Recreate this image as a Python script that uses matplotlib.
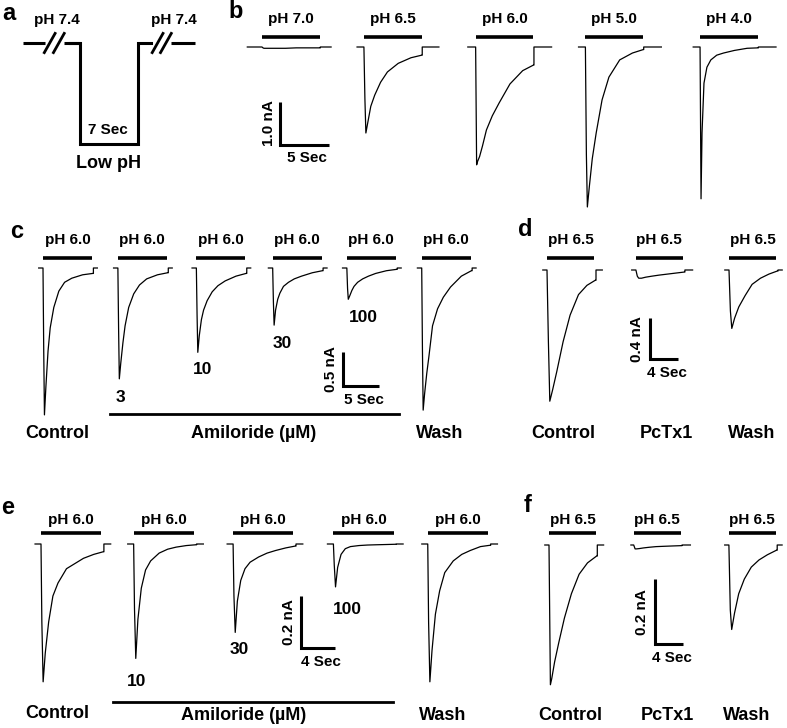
import numpy as np
import matplotlib
matplotlib.use("Agg")
import matplotlib.pyplot as plt

plt.rcParams['font.family'] = ['Liberation Sans', 'DejaVu Sans']

W, H = 787, 728

# ---- data (currents in nA, time in s after the pH drop) ----
# panel b: pH series
tb = [0, 0.1, 0.2, 0.4, 0.7, 1.1, 1.7, 2.4, 3.5, 4.8, 5.9]
b_labels = ['pH 7.0', 'pH 6.5', 'pH 6.0', 'pH 5.0', 'pH 4.0']
b_ph70 = [0, -0.02, -0.03, -0.03, -0.03, -0.03, -0.03, -0.03, -0.02, -0.02, -0.02]
b_ph65 = [0, -1.2, -2.0, -1.75, -1.38, -1.12, -0.82, -0.58, -0.38, -0.25, -0.19]
b_ph60 = [0, -2.74, -2.66, -2.55, -2.3, -1.93, -1.6, -1.30, -0.86, -0.55, -0.42]
b_ph50 = [0, -2.5, -3.72, -3.25, -2.6, -2.0, -1.23, -0.70, -0.30, -0.14, -0.06]
b_ph40 = [0, -3.53, -2.0, -0.84, -0.47, -0.30, -0.19, -0.14, -0.08, -0.03, -0.02]

# panel c: amiloride, pH 6.0
tc = [0, 0.1, 0.2, 0.4, 0.7, 1.0, 1.5, 2.2, 3.0, 4.0, 5.5, 6.9]
c_control = [0, -1.2, -2.16, -1.75, -1.22, -0.88, -0.58, -0.34, -0.21, -0.15, -0.10, -0.08]
c_am3 = [0, -0.9, -1.63, -1.4, -1.1, -0.85, -0.58, -0.38, -0.25, -0.16, -0.10, -0.07]
c_am10 = [0, -0.7, -1.24, -1.0, -0.76, -0.62, -0.48, -0.35, -0.26, -0.19, -0.12, -0.08]
c_am30 = [0, -0.5, -0.84, -0.62, -0.46, -0.37, -0.27, -0.21, -0.16, -0.12, -0.07, -0.04]
c_am100 = [0, -0.3, -0.46, -0.41, -0.33, -0.27, -0.21, -0.16, -0.12, -0.08, -0.04, -0.02]
c_wash = [0, -1.2, -2.09, -1.85, -1.55, -1.3, -0.85, -0.6, -0.43, -0.28, -0.12, -0.04]
c_conc = ['', '3', '10', '30', '100', '']

# panel d: PcTx1, pH 6.5
td = [0, 0.2, 0.4, 0.8, 1.4, 2.3, 3.3, 4.5, 5.7, 6.9]
d_control = [0, -0.7, -1.28, -1.17, -0.99, -0.70, -0.44, -0.24, -0.15, -0.10]
d_pctx1 = [0, -0.06, -0.08, -0.08, -0.07, -0.06, -0.05, -0.04, -0.03, -0.02]
d_wash = [0, -0.4, -0.57, -0.47, -0.36, -0.25, -0.14, -0.08, -0.04, -0.01]

# panel e: amiloride, pH 6.0
te = [0, 0.1, 0.25, 0.5, 0.9, 1.4, 2.0, 3.0, 4.0, 5.0, 6.2, 7.3]
e_control = [0, -0.3, -0.53, -0.42, -0.30, -0.20, -0.15, -0.095, -0.075, -0.055, -0.04, -0.03]
e_am10 = [0, -0.25, -0.44, -0.29, -0.17, -0.10, -0.065, -0.035, -0.02, -0.012, -0.006, -0.003]
e_am30 = [0, -0.2, -0.34, -0.22, -0.14, -0.095, -0.07, -0.05, -0.035, -0.025, -0.015, -0.008]
e_am100 = [0, -0.08, -0.165, -0.09, -0.04, -0.018, -0.01, -0.006, -0.004, -0.003, -0.002, -0.001]
e_wash = [0, -0.3, -0.53, -0.41, -0.27, -0.18, -0.11, -0.065, -0.04, -0.025, -0.01, -0.005]
e_conc = ['', '10', '30', '100', '']

# panel f: PcTx1, pH 6.5
tf = [0, 0.2, 0.4, 0.8, 1.4, 2.2, 3.2, 4.3, 5.5, 6.8]
f_control = [0, -0.43, -0.41, -0.36, -0.30, -0.225, -0.15, -0.09, -0.055, -0.034]
f_pctx1 = [0, -0.012, -0.012, -0.011, -0.009, -0.007, -0.005, -0.004, -0.003, -0.002]
f_wash = [0, -0.2, -0.26, -0.21, -0.15, -0.105, -0.068, -0.046, -0.03, -0.016]

fig = plt.figure(figsize=(W / 100, H / 100), dpi=100)


def panel_axes(name, ox, oy, sx, sy):
    # full-figure axes; data (0, 0) sits at pixel (ox, oy), sx px/s, sy px/nA
    ax = fig.add_axes([0, 0, 1, 1], label=name)
    ax.set_xlim(-ox / sx, (W - ox) / sx)
    ax.set_ylim(-(H - oy) / sy, oy / sy)
    ax.set_axis_off()
    return ax


def text(x, y, s, size=13, **kw):
    fig.text(x / W, 1 - y / H, s, ha='center', va='center',
             fontsize=size, fontweight='bold', **kw)


def trace(ax, t0, t, i, pulse, pre, post):
    ts = np.concatenate([[t0 - pre], t0 + np.asarray(t), [t0 + pulse] * 2, [t0 + pulse + post]])
    vs = np.concatenate([[0], i, [i[-1], 0, 0]])
    ax.plot(ts, vs, color='k', lw=0.9, solid_joinstyle='round')


def pulse_bar(ax, t0, length, level, label, dy):
    ax.plot([t0, t0 + length], [level, level], color='k', lw=2.6, solid_capstyle='butt')
    ax.annotate(label, (t0 + length / 2, level), xytext=(0, dy), textcoords='offset points',
                ha='center', va='center', fontsize=11, fontweight='bold')


def scale_bar(ax, t, i, dt, di, tlab, ilab, ilab_dx=-9, tlab_dy=-10):
    ax.plot([t, t, t + dt], [i + di, i, i], color='k', lw=2.2,
            solid_capstyle='butt', solid_joinstyle='miter')
    ax.annotate(ilab, (t, i + di / 2), xytext=(ilab_dx, 0), textcoords='offset points',
                ha='center', va='center', rotation=90, fontsize=11, fontweight='bold')
    ax.annotate(tlab, (t + dt / 2, i), xytext=(2, tlab_dy), textcoords='offset points',
                ha='center', va='center', fontsize=11, fontweight='bold')


# ---- panel a: protocol sketch ----
axa = panel_axes('a', 80, 144, 8.3, 101)
axa.plot([-1.2, 0, 0, 7, 7, 8.5], [1, 1, 0, 0, 1, 1], color='k', lw=2.2, solid_joinstyle='miter')
axa.plot([-6.9, -4.2], [1, 1], color='k', lw=2.2, solid_capstyle='butt')
axa.plot([-1.9, 0], [1, 1], color='k', lw=2.2, solid_capstyle='butt')
axa.plot([11.0, 13.8], [1, 1], color='k', lw=2.2, solid_capstyle='butt')
for c in (-3.65, -2.55, 9.35, 10.35):
    axa.plot([c - 0.65, c + 0.65], [1 - 0.095, 1 + 0.095], color='k', lw=2.0)
text(57, 20, 'pH 7.4', 11)
text(174, 20, 'pH 7.4', 11)
text(108, 130, '7 Sec', 11)
text(108, 163, 'Low pH', 13)

# ---- panel b ----
axb = panel_axes('b', 262, 47, 9.8, 43)
b_traces = [b_ph70, b_ph65, b_ph60, b_ph50, b_ph40]
b_on = [0, 10.4, 21.8, 33.0, 44.7]
b_pre = [1.5, 0.7, 0.8, 0.7, 0.7]
b_post = [1.1, 1.7, 1.8, 1.8, 1.8]
for k, tr in enumerate(b_traces):
    trace(axb, b_on[k], tb, tr, 5.95, b_pre[k], b_post[k])
    pulse_bar(axb, b_on[k], 5.9, 0.23, b_labels[k], 13)
scale_bar(axb, 1.84, -2.28, 5, 1.0, '5 Sec', '1.0 nA', -8, -9)

# ---- panel c ----
axc = panel_axes('c', 43, 268, 7.2, 68)
c_traces = [c_control, c_am3, c_am10, c_am30, c_am100, c_wash]
c_on = [0, 10.4, 21.3, 31.9, 42.2, 52.6]
for k, tr in enumerate(c_traces):
    trace(axc, c_on[k], tc, tr, 7.0, 0.6, 0.55)
    pulse_bar(axc, c_on[k], 6.8, 0.15, 'pH 6.0', 13)
scale_bar(axc, 41.7, -1.74, 5, 0.5, '5 Sec', '0.5 nA', -9, -10)
text(120, 398, '3', 12.5)
text(203, 369, '10', 12.5)
text(282, 343, '30', 12.5)
text(363, 318, '100', 12.5)
fig.add_artist(plt.Line2D([110 / W, 399 / W], [1 - 414 / H] * 2, color='k', lw=2.0))
text(57, 433, 'Control')
text(254, 433, 'Amiloride (µM)')
text(440, 433, 'Wash')

# ---- panel d ----
axd = panel_axes('d', 547, 270, 7.0, 102.5)
d_traces = [d_control, d_pctx1, d_wash]
d_on = [0, 12.7, 26.0]
d_post = [0.9, 1.1, 0.6]
for k, tr in enumerate(d_traces):
    trace(axd, d_on[k], td, tr, 7.0, 0.6, d_post[k])
    pulse_bar(axd, d_on[k], 6.7, 0.117, 'pH 6.5', 13)
scale_bar(axd, 14.7, -0.87, 4, 0.4, '4 Sec', '0.4 nA', -9, -10)
text(563, 433, 'Control')
text(666, 433, 'PcTx1')
text(752, 433, 'Wash')

# ---- panel e ----
axe = panel_axes('e', 41, 544, 8.5, 260)
e_traces = [e_control, e_am10, e_am30, e_am100, e_wash]
e_on = [0, 10.9, 22.6, 34.4, 45.5]
for k, tr in enumerate(e_traces):
    trace(axe, e_on[k], te, tr, 7.4, 0.7, 0.8)
    pulse_bar(axe, e_on[k], 7.1, 0.042, 'pH 6.0', 9.5)
scale_bar(axe, 30.6, -0.40, 4, 0.2, '4 Sec', '0.2 nA', -9, -10)
text(137, 681, '10', 12.5)
text(239, 649, '30', 12.5)
text(347, 609, '100', 12.5)
fig.add_artist(plt.Line2D([113 / W, 393 / W], [1 - 702 / H] * 2, color='k', lw=2.0))
text(57, 714, 'Control')
text(244, 716, 'Amiloride (µM)')
text(443, 716, 'Wash')

# ---- panel f ----
axf = panel_axes('f', 549, 545, 7.0, 325)
f_traces = [f_control, f_pctx1, f_wash]
f_on = [0, 12.1, 25.7]
f_pre = [0.6, 0.4, 0.6]
f_post = [0.9, 1.2, 0.7]
for k, tr in enumerate(f_traces):
    trace(axf, f_on[k], tf, tr, 6.9, f_pre[k], f_post[k])
    pulse_bar(axf, f_on[k], 6.7, 0.037, 'pH 6.5', 9.5)
scale_bar(axf, 15.1, -0.305, 4, 0.2, '4 Sec', '0.2 nA', -9, -10)
text(570, 715, 'Control')
text(667, 715, 'PcTx1')
text(747, 715, 'Wash')

# panel letters
for s, x, y in [('a', 9, 13), ('b', 236, 12), ('c', 17, 231),
                ('d', 525, 230), ('e', 8, 508), ('f', 528, 505)]:
    text(x, y, s, 17)

fig.savefig('out.png', dpi=100)
